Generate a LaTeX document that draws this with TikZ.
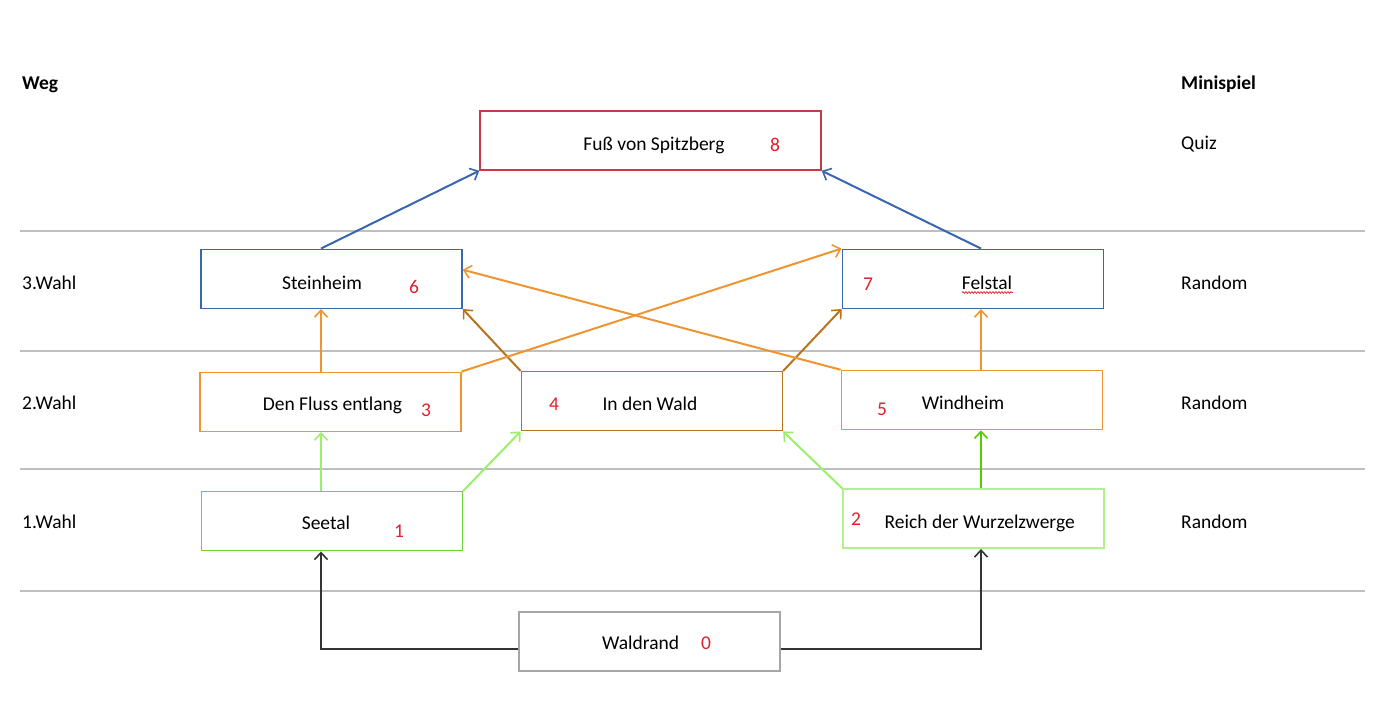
\documentclass[tikz,border=0pt]{standalone}
\usepackage{fontspec}
\setmainfont{Carlito}
\usetikzlibrary{arrows.meta,decorations.pathmorphing,calc}
\definecolor{cred}{HTML}{C9384A}
\definecolor{cblue}{HTML}{3A66AE}
\definecolor{corange}{HTML}{EE9430}
\definecolor{cbrown}{HTML}{B8731F}
\definecolor{cgreenA}{HTML}{6FD43A}
\definecolor{cgreenB}{HTML}{B0F090}
\definecolor{cgreenL}{HTML}{9BF06A}
\definecolor{cgreenD}{HTML}{55CC00}
\definecolor{cgraybox}{HTML}{A6A6A6}
\definecolor{cgrayline}{HTML}{BFBFBF}
\definecolor{cnum}{HTML}{E0202A}
\definecolor{cblack}{HTML}{333333}
\tikzset{
  box/.style={draw, line width=1.5pt, minimum width=261pt, minimum height=59pt, inner sep=0pt, fill=white},
  lbl/.style={anchor=base, inner sep=0pt, text=black},
  lblL/.style={anchor=base west, inner sep=0pt, text=black},
  num/.style={anchor=base, inner sep=0pt, text=cnum},
  conn/.style={line width=2pt, -{Straight Barb[length=7pt,width=13pt,line width=1.6pt]}},
  sep/.style={draw=cgrayline, line width=1.5pt}
}
\begin{document}
\begin{tikzpicture}[x=1pt,y=-1pt, font=\fontsize{19.5}{23}\selectfont]
\useasboundingbox (0,0) rectangle (1389,701);
\fill[white] (0,0) rectangle (1389,701);
% separator lines
\coordinate (s1a) at (20,231); \coordinate (s1b) at (1365,231);
\coordinate (s2a) at (20,351); \coordinate (s2b) at (1365,351);
\coordinate (s3a) at (20,469); \coordinate (s3b) at (1365,469);
\coordinate (s4a) at (20,591); \coordinate (s4b) at (1365,591);
\draw[sep] (s1a) -- (s1b);
\draw[sep] (s2a) -- (s2b);
\draw[sep] (s3a) -- (s3b);
\draw[sep] (s4a) -- (s4b);
% column coordinates
\coordinate (L) at (321,0);
\coordinate (R) at (981,0);
% boxes
\node[box, draw=cred, minimum width=341pt] (fuss) at (650.5,140.5) {};
\node[box, draw=cblue] (stein) at (331.5,278.8) {};
\node[box, draw=cblue] (fels) at (972.8,278.8) {};
\node[box, draw=corange] (fluss) at (330.3,401.8) {};
\node[box, draw=cbrown] (wald) at (651.9,401.2) {};
\node[box, draw=corange] (wind) at (971.9,400) {};
\node[box, draw=cgreenA] (see) at (331.9,521.2) {};
\node[box, draw=cgreenB] (reich) at (973.5,518.7) {};
\node[box, draw=cgraybox] (rand) at (649.5,641.5) {};
% texts in boxes
\node[lbl] (tfuss) at (654,150) {Fuß von Spitzberg};
\node[num] (nfuss) at (775,151) {8};
\node[lbl] (tstein) at (322,289) {Steinheim};
\node[num] (nstein) at (414,293) {6};
\node[lbl] (tfels) at (987,289) {Felstal};
\node[num] (nfels) at (868,290) {7};
\node[lbl] (tfluss) at (332.5,410) {Den Fluss entlang};
\node[num] (nfluss) at (426,416) {3};
\node[lbl] (twald) at (650,410) {In den Wald};
\node[num] (nwald) at (554,410) {4};
\node[lbl] (twind) at (963,409) {Windheim};
\node[num] (nwind) at (882,415) {5};
\node[lbl] (tsee) at (326,529) {Seetal};
\node[num] (nsee) at (399,537) {1};
\node[lbl] (treich) at (979.7,528) {Reich der Wurzelzwerge};
\node[num] (nreich) at (856,525.5) {2};
\node[lbl] (trand) at (640.6,649) {Waldrand};
\node[num] (nrand) at (706,649) {0};
% spell-check squiggle under Felstal
\coordinate (sqa) at (962,292.5); \coordinate (sqb) at (1013,292.5);
\draw[cnum, line width=0.7pt, decorate, decoration={snake, amplitude=0.9pt, segment length=3pt}] (sqa) -- (sqb);
% side labels
\node[lblL, font=\fontsize{19.5}{23}\selectfont\bfseries] (weg) at (22,89.5) {Weg};
\node[lblL, font=\fontsize{19.5}{23}\selectfont\bfseries] (mini) at (1181,89) {Minispiel};
\node[lblL] (quiz) at (1181,149) {Quiz};
\node[lblL] (w3) at (22,289) {3.Wahl};
\node[lblL] (w2) at (22,409) {2.Wahl};
\node[lblL] (w1) at (22,528.5) {1.Wahl};
\node[lblL] (r3) at (1181,289) {Random};
\node[lblL] (r2) at (1181,409) {Random};
\node[lblL] (r1) at (1181,528.5) {Random};
% connectors: black
\coordinate (bl) at (321,649.3);
\coordinate (br) at (981,649.3);
\draw[conn, draw=cblack, line width=1.8pt] (rand.west |- bl) -- (bl) -- (see.south -| L);
\draw[conn, draw=cblack, line width=1.8pt] (rand.east |- br) -- (br) -- (reich.south -| R);
% green
\draw[conn, draw=cgreenL] (see.north -| L) -- (fluss.south -| L);
\draw[conn, draw=cgreenL] (see.north east) -- (wald.south west);
\draw[conn, draw=cgreenL] (reich.north west) -- (wald.south east);
\draw[conn, draw=cgreenD] (reich.north -| R) -- (wind.south -| R);
% brown
\draw[conn, draw=cbrown] (wald.north west) -- (stein.south east);
\draw[conn, draw=cbrown] (wald.north east) -- (fels.south west);
% orange
\draw[conn, draw=corange] (fluss.north -| L) -- (stein.south -| L);
\draw[conn, draw=corange] (fluss.north east) -- (fels.north west);
\draw[conn, draw=corange] (wind.north west) -- ($(stein.north east)!0.35!(stein.south east)$);
\draw[conn, draw=corange] (wind.north -| R) -- (fels.south -| R);
% blue
\draw[conn, draw=cblue] (stein.north -| L) -- (fuss.south west);
\draw[conn, draw=cblue] (fels.north -| R) -- (fuss.south east);
\end{tikzpicture}
\end{document}
